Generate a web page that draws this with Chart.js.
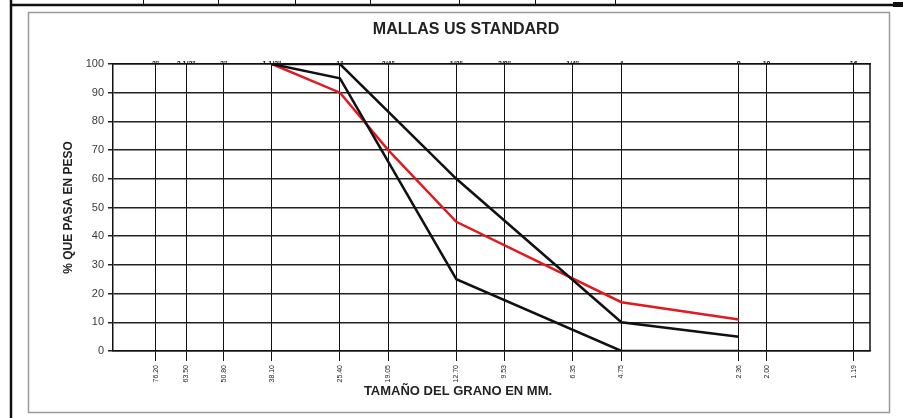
<!DOCTYPE html>
<html>
<head>
<meta charset="utf-8">
<script src="https://cdn.jsdelivr.net/npm/chart.js@4/dist/chart.umd.min.js"></script>
<style>
  html, body { margin: 0; padding: 0; background: #fff; }
  #wrap { width: 903px; height: 418px; position: relative; }
</style>
</head>
<body>
<div id="wrap"><canvas id="c" width="903" height="418"></canvas></div>
<script>
// Sieve openings (mm) and their labels
const sieveMm = [76.2, 63.5, 50.8, 38.1, 25.4, 19.05, 12.7, 9.53, 6.35, 4.75, 2.36, 2.0, 1.19];
const mmLabels = ['76.20', '63.50', '50.80', '38.10', '25.40', '19.05', '12.70', '9.53', '6.35', '4.75', '2.36', '2.00', '1.19'];
const meshLabels = ['3"', '2 1/2"', '2"', '1 1/2"', '1"', '3/4"', '1/2"', '3/8"', '1/4"', '4', '8', '10', '16'];

// Gradation band limits
const limitSizes = [38.1, 25.4, 12.7, 4.75, 2.36];
const upperLimit = [100, 100, 60, 10, 5];
const lowerLimit = [100, 95, 25, 0, 0];

// Sample curve
const sampleSizes = [38.1, 25.4, 19.05, 12.7, 4.75, 2.36];
const samplePassing = [100, 90, 70, 45, 17, 11];

const yTicks = [0, 10, 20, 30, 40, 50, 60, 70, 80, 90, 100];

const NARROW = '"Liberation Sans Narrow", "Liberation Sans", Arial, sans-serif';

const toPoints = (xs, ys) => xs.map((x, i) => ({ x: x, y: ys[i] }));

// Page frame, plot border and free-standing titles
const sheetDecor = {
  id: 'sheetDecor',
  beforeDraw(chart) {
    const ctx = chart.ctx;
    ctx.save();
    ctx.fillStyle = '#fff';
    ctx.fillRect(0, 0, chart.width, chart.height);
    // inner sheet box
    ctx.strokeStyle = '#9a9a9a';
    ctx.lineWidth = 1.5;
    ctx.strokeRect(28.5, 12.5, 861, 400);
    // outer table rules
    ctx.strokeStyle = '#111';
    ctx.lineWidth = 2.5;
    ctx.beginPath();
    ctx.moveTo(11, 0); ctx.lineTo(11, 418);
    ctx.moveTo(10, 5); ctx.lineTo(903, 5);
    ctx.stroke();
    ctx.lineWidth = 1;
    ctx.beginPath();
    [143, 218, 295, 370, 459, 535, 615].forEach(x => { ctx.moveTo(x + 0.5, 0); ctx.lineTo(x + 0.5, 5); });
    ctx.stroke();
    ctx.fillStyle = '#111';
    ctx.fillRect(893, 2, 10, 5);
    ctx.restore();
  },
  afterDraw(chart) {
    const ctx = chart.ctx;
    const a = chart.chartArea;
    ctx.save();
    ctx.strokeStyle = '#111';
    ctx.lineWidth = 1.5;
    ctx.beginPath();
    ctx.moveTo(a.right, a.top);
    ctx.lineTo(a.right, a.bottom);
    ctx.stroke();
    ctx.fillStyle = '#222';
    ctx.textAlign = 'center';
    ctx.textBaseline = 'middle';
    ctx.font = 'bold 16px ' + NARROW;
    ctx.fillText('MALLAS US STANDARD', 466, 30);
    ctx.font = 'bold 13px ' + NARROW;
    ctx.fillText('TAMAÑO DEL GRANO EN MM.', 458, 391);
    ctx.restore();
  }
};

const setSieveTicks = scale => { scale.ticks = sieveMm.map(v => ({ value: v })); };

new Chart(document.getElementById('c'), {
  type: 'line',
  data: {
    datasets: [
      {
        label: 'Muestra',
        data: toPoints(sampleSizes, samplePassing),
        borderColor: '#e01b1f',
        borderWidth: 2.5,
        pointRadius: 0,
        tension: 0,
        order: 3
      },
      {
        label: 'Límite superior',
        data: toPoints(limitSizes, upperLimit),
        borderColor: '#111',
        borderWidth: 2.5,
        pointRadius: 0,
        tension: 0,
        order: 1
      },
      {
        label: 'Límite inferior',
        data: toPoints(limitSizes, lowerLimit),
        borderColor: '#111',
        borderWidth: 2.5,
        pointRadius: 0,
        tension: 0,
        order: 2
      }
    ]
  },
  options: {
    responsive: false,
    animation: false,
    devicePixelRatio: 1,
    layout: { padding: { left: 58, right: 33, top: 0, bottom: 0 } },
    plugins: {
      legend: { display: false },
      title: { display: false },
      tooltip: { enabled: false }
    },
    scales: {
      x: {
        type: 'logarithmic',
        position: 'bottom',
        reverse: true,
        min: 1.08,
        max: 98.2,
        afterBuildTicks: setSieveTicks,
        afterFit: s => { s.height = 67; },
        grid: { color: '#111', lineWidth: 1, tickLength: 10, drawTicks: true },
        border: { color: '#111', width: 1.5 },
        ticks: {
          autoSkip: false,
          minRotation: 90,
          maxRotation: 90,
          padding: 4,
          color: '#222',
          font: { size: 7, family: NARROW },
          callback: (v, i) => mmLabels[i]
        }
      },
      xTop: {
        type: 'logarithmic',
        position: 'top',
        reverse: true,
        min: 1.08,
        max: 98.2,
        afterBuildTicks: setSieveTicks,
        afterFit: s => { s.height = 64; },
        grid: { display: false, drawTicks: false },
        border: { color: '#111', width: 1.5 },
        ticks: {
          autoSkip: false,
          maxRotation: 0,
          minRotation: 0,
          padding: -4,
          color: '#111',
          font: { size: 7, weight: 'bold', family: NARROW },
          callback: (v, i) => meshLabels[i]
        }
      },
      y: {
        type: 'linear',
        min: 0,
        max: 100,
        afterBuildTicks: s => { s.ticks = yTicks.map(v => ({ value: v })); },
        afterFit: s => { s.width = 55; },
        grid: { color: '#222', lineWidth: 1.5, tickLength: 5 },
        border: { color: '#111', width: 1.5 },
        ticks: {
          padding: 4,
          color: '#3a3a3a',
          font: { size: 11, family: 'Arial, "Liberation Sans", sans-serif' }
        },
        title: {
          display: true,
          text: '% QUE PASA EN PESO',
          color: '#222',
          padding: { top: 3, bottom: 0 },
          font: { size: 12, weight: 'bold', family: NARROW }
        }
      }
    }
  },
  plugins: [sheetDecor]
});
</script>
</body>
</html>
